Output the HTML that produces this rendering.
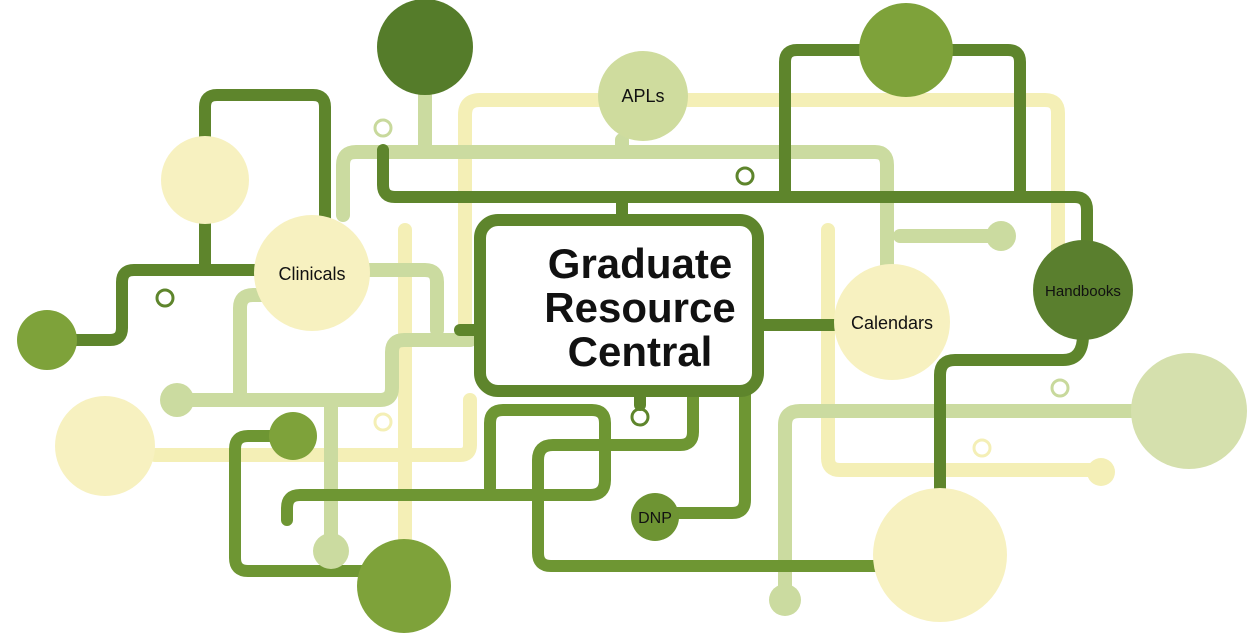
<!DOCTYPE html>
<html><head><style>
body{margin:0;background:#fff;}
svg{display:block}
text{font-family:"Liberation Sans",sans-serif;}
</style></head><body>
<svg width="1248" height="640" viewBox="0 0 1248 640" xmlns="http://www.w3.org/2000/svg">
<rect width="1248" height="640" fill="#fff"/>
<g fill="none" stroke-linecap="round" stroke-linejoin="round">
<g stroke="#f4efb6" stroke-width="14">
<path d="M465,330 L465,115 Q465,100 480,100 L600,100"/>
<path d="M688,100 L1045,100 Q1058,100 1058,113 L1058,250"/>
<path d="M828,230 L828,458 Q828,470 840,470 L1101,470"/>
<path d="M155,455 L460,455 Q470,455 470,445 L470,400"/>
<path d="M405,230 L405,540"/>
</g>
<g stroke="#cbdba0" stroke-width="14">
<path d="M343,215 L343,165 Q343,152 356,152 L875,152 Q887,152 887,165 L887,265"/>
<path d="M622,140 L622,152"/>
<path d="M425,95 L425,152"/>
<path d="M177,400 L380,400 Q392,400 392,388 L392,352 Q392,340 404,340 L470,340"/>
<path d="M240,400 L240,308 Q240,295 253,295 L262,295"/>
<path d="M365,270 L425,270 Q437,270 437,282 L437,330"/>
<path d="M1131,411 L800,411 Q785,411 785,425 L785,595"/>
<path d="M900,236 L1001,236"/>
<path d="M331,400 L331,545"/>
</g>
<g stroke="#5e852c" stroke-width="12">
<path d="M383,150 L383,185 Q383,197 395,197 L1075,197 Q1087,197 1087,210 L1087,245"/>
<path d="M622,197 L622,218"/>
<path d="M785,197 L785,62 Q785,50 797,50 L1008,50 Q1020,50 1020,62 L1020,197"/>
<path d="M205,270 L205,107 Q205,95 217,95 L313,95 Q325,95 325,107 L325,218"/>
<path d="M60,340 L110,340 Q122,340 122,328 L122,282 Q122,270 134,270 L260,270"/>
<path d="M460,330 L478,330"/>
<path d="M760,325 L835,325"/>
<path d="M1083,335 Q1083,360 1063,360 L955,360 Q940,360 940,375 L940,492"/>
<path d="M640,393 L640,405"/>
</g>
<g stroke="#6e9633" stroke-width="12">
<path d="M693,393 L693,432 Q693,445 680,445 L553,445 Q538,445 538,460 L538,553 Q538,566 551,566 L885,566"/>
<path d="M745,393 L745,500 Q745,513 732,513 L675,513"/>
<path d="M490,488 L490,423 Q490,410 503,410 L592,410 Q605,410 605,423 L605,480 Q605,495 590,495 L300,495 Q287,495 287,508 L287,520"/>
<path d="M270,436 L248,436 Q235,436 235,449 L235,558 Q235,571 248,571 L370,571"/>
</g>
</g>
<g fill="none" stroke-width="3">
<circle cx="383" cy="128" r="8" stroke="#c8d99c"/>
<circle cx="745" cy="176" r="8" stroke="#5e852c"/>
<circle cx="165" cy="298" r="8" stroke="#5e852c"/>
<circle cx="640" cy="417" r="8" stroke="#5e852c"/>
<circle cx="383" cy="422" r="8" stroke="#f4efb6"/>
<circle cx="1060" cy="388" r="8" stroke="#c8d99c"/>
<circle cx="982" cy="448" r="8" stroke="#f4efb6"/>
</g>
<circle cx="425" cy="47" r="48" fill="#557c2a"/>
<circle cx="643" cy="96" r="45" fill="#cfdc9e"/>
<circle cx="906" cy="50" r="47" fill="#7ea23a"/>
<circle cx="205" cy="180" r="44" fill="#f7f1c0"/>
<circle cx="312" cy="273" r="58" fill="#f7f1c0"/>
<circle cx="47" cy="340" r="30" fill="#7ea23a"/>
<circle cx="1083" cy="290" r="50" fill="#5a7f2e"/>
<circle cx="892" cy="322" r="58" fill="#f7f1c0"/>
<circle cx="1189" cy="411" r="58" fill="#d5e0ad"/>
<circle cx="105" cy="446" r="50" fill="#f7f1c0"/>
<circle cx="293" cy="436" r="24" fill="#7ea23a"/>
<circle cx="655" cy="517" r="24" fill="#6e9433"/>
<circle cx="404" cy="586" r="47" fill="#7ea23a"/>
<circle cx="940" cy="555" r="67" fill="#f7f1c0"/>
<circle cx="177" cy="400" r="17" fill="#cbdba0"/>
<circle cx="1001" cy="236" r="15" fill="#cbdba0"/>
<circle cx="331" cy="551" r="18" fill="#cbdba0"/>
<circle cx="785" cy="600" r="16" fill="#cbdba0"/>
<circle cx="1101" cy="472" r="14" fill="#f4efb6"/>
<rect x="480" y="220" width="278" height="171" rx="18" fill="#fff" stroke="#5e852c" stroke-width="12"/>
<g font-weight="bold" font-size="42" text-anchor="middle" fill="#111">
<text x="640" y="278">Graduate</text>
<text x="640" y="322">Resource</text>
<text x="640" y="366">Central</text>
</g>
<g font-size="18" text-anchor="middle" fill="#111">
<text x="312" y="280">Clinicals</text>
<text x="643" y="102">APLs</text>
<text x="892" y="329">Calendars</text>
<text x="1083" y="296" font-size="15">Handbooks</text>
<text x="655" y="523" font-size="16">DNP</text>
</g>
</svg>
</body></html>
